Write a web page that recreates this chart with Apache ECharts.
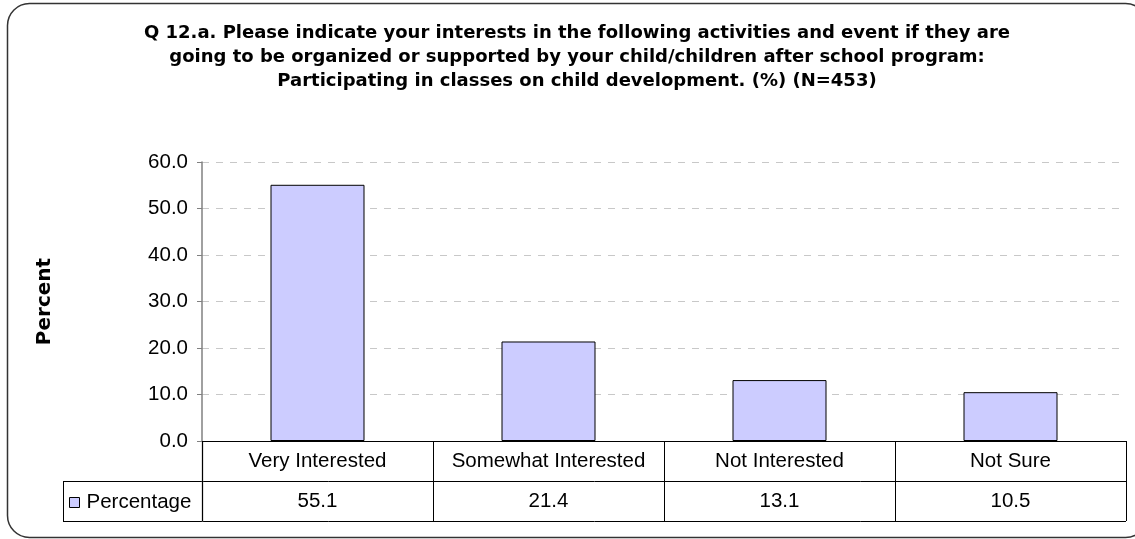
<!DOCTYPE html>
<html>
<head>
<meta charset="utf-8">
<script src="https://cdn.jsdelivr.net/npm/echarts@6/dist/echarts.min.js"></script>
<style>
  html, body { margin: 0; padding: 0; background: #fff; }
  #chart { width: 1135px; height: 539px; }
</style>
</head>
<body>
<div id="chart"></div>
<script>
// Response categories and share of respondents (%)
const categories = ['Very Interested', 'Somewhat Interested', 'Not Interested', 'Not Sure'];
const percentages = [55.1, 21.4, 13.1, 10.5];
const seriesName = 'Percentage';
const titleLines = [
  'Q 12.a. Please indicate your interests in the following activities and event if they are',
  'going to be organized or supported by your child/children after school program:',
  'Participating in classes on child development. (%) (N=453)'
];
const yTicks = { min: 0, max: 60, interval: 10 };

const FONT = '"Liberation Sans", Arial, sans-serif';
const BOLD_FONT = '"DejaVu Sans", "Liberation Sans", sans-serif';
const FS = 20.5;
const chart = echarts.init(document.getElementById('chart'), null, { renderer: 'canvas' });

const grid = { left: 202, right: 9, top: 162, bottom: 98 };
const rowH = 40;

const option = {
  animation: false,
  backgroundColor: '#ffffff',
  textStyle: { fontFamily: FONT },
  title: {
    text: titleLines.join('\n'),
    left: 572,
    textAlign: 'center',
    top: 16,
    textStyle: { fontFamily: BOLD_FONT, fontSize: 18, fontWeight: 'bold', color: '#000', lineHeight: 24 }
  },
  legend: {
    data: [seriesName],
    left: 69,
    top: 492,
    padding: 0,
    itemWidth: 10,
    itemHeight: 10,
    itemGap: 4,
    icon: 'rect',
    textStyle: { fontFamily: FONT, fontSize: FS, color: '#000', padding: [0, 0, 0, 2] },
    itemStyle: { color: '#ccccff', borderColor: '#000', borderWidth: 1 }
  },
  grid: grid,
  xAxis: {
    type: 'category',
    data: categories,
    boundaryGap: true,
    axisLine: { lineStyle: { color: '#000', width: 1 } },
    axisTick: { show: true, alignWithLabel: false, length: rowH * 2, lineStyle: { color: '#000', width: 1 } },
    axisLabel: {
      margin: 0,
      interval: 0,
      formatter: function (val, idx) {
        return '{c|' + val + '}\n{v|' + percentages[idx].toFixed(1) + '}';
      },
      rich: {
        c: { fontFamily: FONT, fontSize: FS, color: '#000', lineHeight: rowH, height: rowH },
        v: { fontFamily: FONT, fontSize: FS, color: '#000', lineHeight: rowH, height: rowH }
      }
    }
  },
  yAxis: {
    type: 'value',
    min: yTicks.min,
    max: yTicks.max,
    interval: yTicks.interval,
    name: 'Percent',
    nameLocation: 'middle',
    nameGap: 147,
    nameTextStyle: { fontFamily: BOLD_FONT, fontSize: 20, fontWeight: 'bold', color: '#000' },
    axisLine: { show: true, lineStyle: { color: '#808080', width: 1.5 } },
    axisTick: { show: true, length: 5, lineStyle: { color: '#808080' } },
    axisLabel: {
      margin: 14,
      fontFamily: FONT, fontSize: FS, color: '#000',
      formatter: function (v) { return v.toFixed(1); }
    },
    splitLine: { show: true, lineStyle: { color: '#c8c8c8', type: [7, 7], width: 1 } }
  },
  series: [{
    name: seriesName,
    type: 'bar',
    data: percentages,
    barWidth: 94,
    itemStyle: { color: '#ccccff', borderColor: '#000', borderWidth: 1 }
  }]
};

chart.setOption(option);

// Data-table rules and outer frame, positioned from the axis scales
const step = chart.convertToPixel({ xAxisIndex: 0 }, 1) - chart.convertToPixel({ xAxisIndex: 0 }, 0);
const x0 = chart.convertToPixel({ xAxisIndex: 0 }, 0) - step / 2;
const xEnd = x0 + step * categories.length;
const yBase = chart.convertToPixel({ yAxisIndex: 0 }, 0);
const legendLeft = 63;
const line = (x1, y1, x2, y2, color, w) => ({
  type: 'line', silent: true,
  shape: { x1: x1, y1: y1, x2: x2, y2: y2 },
  style: { stroke: color || '#000', lineWidth: w || 1 }
});

chart.setOption({
  graphic: [
    line(legendLeft, Math.round(yBase + rowH) + 0.5, xEnd, Math.round(yBase + rowH) + 0.5),
    line(legendLeft, Math.round(yBase + rowH * 2) + 0.5, xEnd, Math.round(yBase + rowH * 2) + 0.5),
    line(legendLeft + 0.5, Math.round(yBase + rowH) + 0.5, legendLeft + 0.5, Math.round(yBase + rowH * 2) + 0.5),
    line(Math.round(x0) + 0.5, yBase, Math.round(x0) + 0.5, Math.round(yBase + rowH * 2) + 0.5, '#808080', 1.5),
    {
      type: 'rect', silent: true, z: -1,
      shape: { x: 7.5, y: 3.5, width: 1140, height: 534, r: 22 },
      style: { fill: 'none', stroke: '#333', lineWidth: 1.5 }
    }
  ]
});
</script>
</body>
</html>
